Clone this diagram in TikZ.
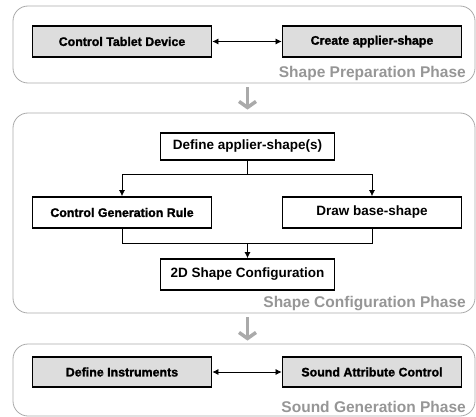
\documentclass[tikz,border=0pt]{standalone}
\usepackage{fontspec}
\setmainfont{Liberation Sans}
\newfontfamily\heavyfont{Liberation Sans}[BoldFeatures={FakeBold=1.5}]
\usetikzlibrary{arrows.meta}

\definecolor{panelgray}{RGB}{170,170,170}
\definecolor{phasegray}{RGB}{150,150,150}
\definecolor{boxgray}{RGB}{221,221,221}

\begin{document}
\begin{tikzpicture}[x=1pt,y=-1pt,
    phase/.style ={draw=panelgray, line width=0.8pt, rounded corners=15pt},
    task/.style ={draw, line width=1.8pt, fill=boxgray, minimum width=179pt, minimum height=31pt,
      inner sep=0pt, font=\heavyfont\bfseries\fontsize{12.4}{14}\selectfont},
    plainbox/.style ={draw, line width=1.8pt, fill=white, minimum width=174pt, minimum height=31pt,
      inner sep=0pt, font=\bfseries\fontsize{13.5}{16}\selectfont},
    phaselabel/.style ={anchor=east, inner sep=0pt, text=phasegray, font=\bfseries\fontsize{15.5}{18}\selectfont},
    flow/.style ={line width=0.7pt, -{Latex[length=6pt,width=6pt]}},
    link/.style ={line width=0.7pt, {Latex[length=6pt,width=6pt]}-{Latex[length=6pt,width=6pt]}},
    bigarrow/.style ={draw=panelgray, line width=3.5pt, -{Straight Barb[length=6pt,width=17pt]}}]
   \useasboundingbox (0,0) rectangle (476,417);

   % phase panels
   \node[phase, minimum width=462pt, minimum height=77pt]  (prep)   at (244,44.5) {};
   \node[phase, minimum width=462pt, minimum height=200pt] (config) at (244,213) {};
   \node[phase, minimum width=462pt, minimum height=72pt]  (sound)  at (244,380) {};

   \node[phaselabel] (preplabel)   at (466,73)  {Shape Preparation Phase};
   \node[phaselabel] (configlabel) at (466,304) {Shape Configuration Phase};
   \node[phaselabel] (soundlabel)  at (466,407) {Sound Generation Phase};

   % shape preparation
   \node[task] (tablet)  at (122,41.5) {Control Tablet Device};
   \node[task] (applier) at (372,41.5) {Create applier-shape};

   % shape configuration
   \node[plainbox, minimum height=27pt] (define) at (247.5,146.5) {Define applier-shape(s)};
   \node[task, fill=white] (rule) at (122,212.5) {Control Generation Rule};
   \node[plainbox, minimum width=179pt] (base) at (372,212.5) {Draw base-shape};
   \node[plainbox] (conf) at (247.5,274.5) {2D Shape Configuration};
   \coordinate (split) at (247.5,174);
   \coordinate (merge) at (247.5,243);

   % sound generation
   \node[task, minimum height=30pt] (instr) at (122,372) {Define Instruments};
   \node[task, minimum height=30pt] (attr)  at (372,372) {Sound Attribute Control};

   \draw[link] (tablet) to (applier);
   \draw[line width=0.7pt] (define) to (split);
   \draw[flow] (split) -| (rule);
   \draw[flow] (split) -| (base);
   \draw[line width=0.7pt] (rule) |- (merge);
   \draw[line width=0.7pt] (base) |- (merge);
   \draw[flow] (merge) to (conf);
   \draw[link] (instr) to (attr);

   \draw[bigarrow, shorten <=4pt, shorten >=3pt] (define.north |- prep.south) to (define.north |- config.north);
   \draw[bigarrow, shorten <=4pt, shorten >=3pt] (define.north |- config.south) to (define.north |- sound.north);
\end{tikzpicture}
\end{document}
